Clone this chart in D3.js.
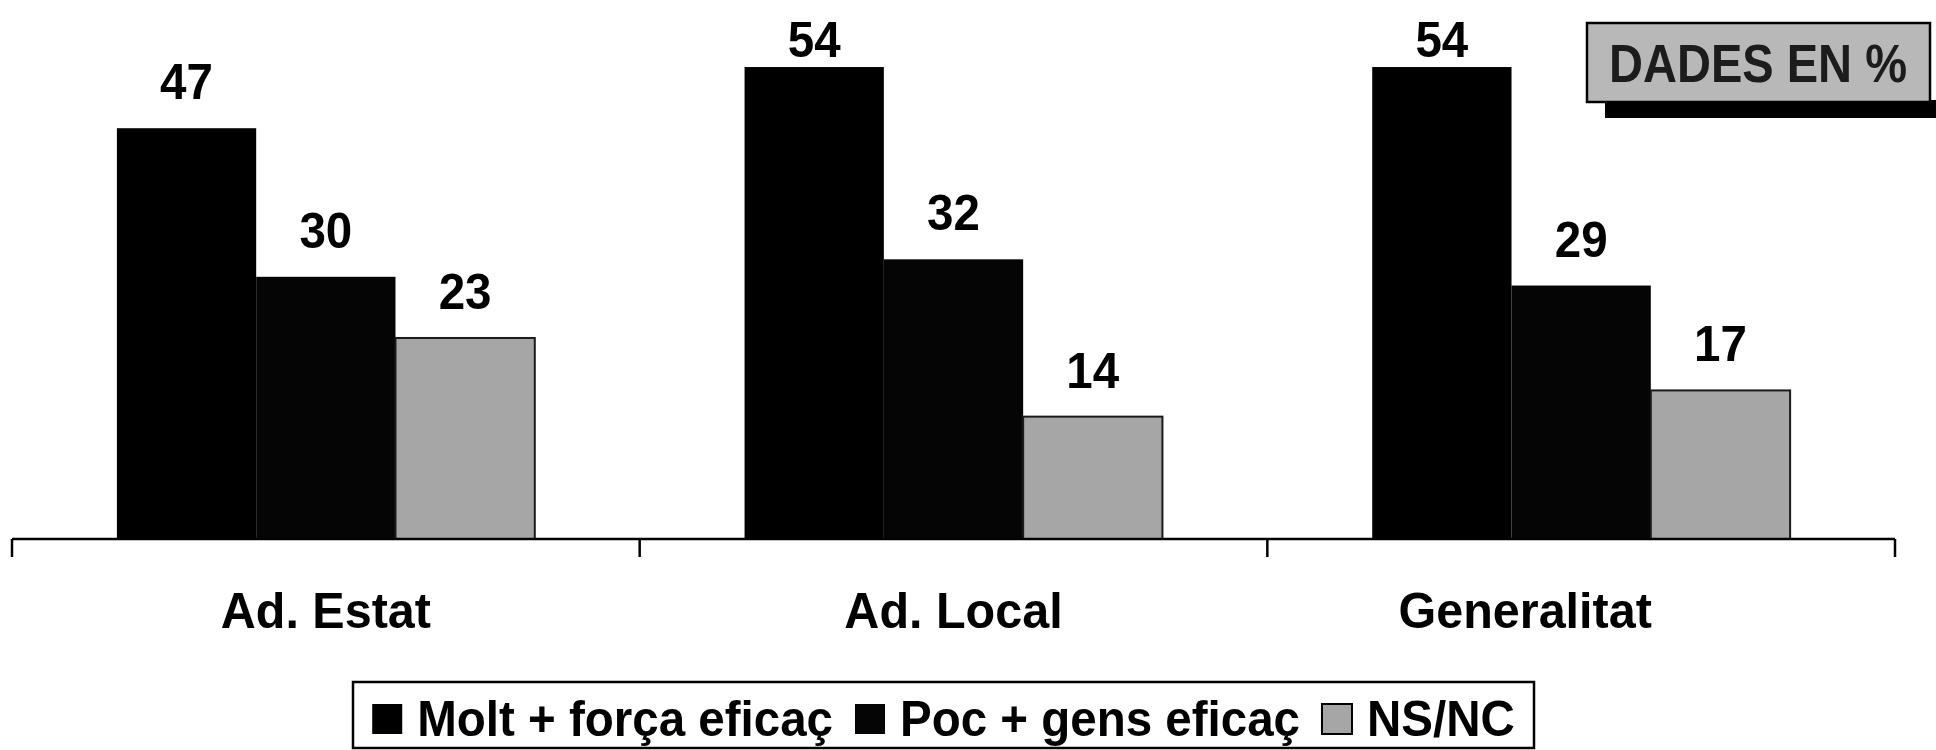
<!DOCTYPE html>
<html>
<head>
<meta charset="utf-8">
<script src="https://cdn.jsdelivr.net/npm/d3@7"></script>
<style>
  html, body { margin: 0; padding: 0; background: #fff; }
  svg { display: block; font-family: "Liberation Sans", Arial, sans-serif; font-weight: bold; }
</style>
</head>
<body>
<svg id="chart" width="1936" height="750"></svg>
<script>
// ---- data ----
const categories = ["Ad. Estat", "Ad. Local", "Generalitat"];
const seriesNames = ["Molt + força eficaç", "Poc + gens eficaç", "NS/NC"];
const molt = [47, 54, 54];
const poc = [30, 32, 29];
const nsnc = [23, 14, 17];
const badgeText = "DADES EN %";

const seriesValues = [molt, poc, nsnc];
const colors = ["#000000", "#050505", "#a6a6a6"];

const svg = d3.select("#chart");
const FS = 50, K = 0.95;

function condense(sel, k) {
  sel.each(function () {
    const len = this.getComputedTextLength();
    d3.select(this).attr("textLength", len * k).attr("lengthAdjust", "spacingAndGlyphs");
  });
}

const axisLeft = 12, axisRight = 1895, baseY = 539, pxPerUnit = 8.74;

const x = d3.scaleBand().domain(categories).range([axisLeft, axisRight]).paddingInner(0).paddingOuter(0);
const xi = d3.scaleBand().domain(seriesNames).range([0, x.bandwidth()]).paddingInner(0).paddingOuter(0.753);
const yMax = 60;
const y = d3.scaleLinear().domain([0, yMax]).range([baseY, baseY - yMax * pxPerUnit]);

// ---- bars ----
const rows = categories.map((c, ci) => ({
  cat: c,
  vals: seriesNames.map((s, si) => ({ s, si, v: seriesValues[si][ci] }))
}));

const groups = svg.append("g").selectAll("g").data(rows).join("g")
  .attr("transform", d => `translate(${x(d.cat)},0)`);

groups.selectAll("rect").data(d => d.vals).join("rect")
  .attr("x", d => xi(d.s))
  .attr("y", d => y(d.v))
  .attr("width", xi.bandwidth())
  .attr("height", d => y(0) - y(d.v))
  .attr("fill", d => colors[d.si])
  .attr("stroke", d => d.si === 2 ? "#1a1a1a" : "none")
  .attr("stroke-width", 2);

groups.selectAll("text").data(d => d.vals).join("text")
  .attr("x", d => xi(d.s) + xi.bandwidth() / 2)
  .attr("y", d => Math.max(y(d.v) - 29, 57))
  .attr("text-anchor", "middle")
  .attr("font-size", FS)
  .attr("fill", "#000")
  .text(d => d.v)
  .call(condense, K);

// ---- axis ----
const axisG = svg.append("g").attr("transform", `translate(0,${baseY})`)
  .call(d3.axisBottom(x).tickSize(0).tickPadding(0));
axisG.select(".domain").attr("stroke", "#000").attr("stroke-width", 2.5)
  .attr("d", `M${axisLeft},0H${axisRight}`);
axisG.selectAll(".tick text")
  .attr("font-size", FS)
  .attr("font-weight", "bold")
  .attr("font-family", "Liberation Sans, Arial, sans-serif")
  .attr("fill", "#000")
  .attr("dy", null)
  .attr("y", 89)
  .attr("dx", (d, i) => i === 2 ? -56 : 0)
  .call(condense, 0.97);
// boundary ticks between categories
const boundaries = categories.map(c => x(c)).concat([x(categories[categories.length - 1]) + x.bandwidth()]);
axisG.selectAll("line.bound").data(boundaries).join("line")
  .attr("class", "bound")
  .attr("x1", d => d).attr("x2", d => d)
  .attr("y1", 0).attr("y2", 18)
  .attr("stroke", "#000").attr("stroke-width", 2.5);

// ---- legend ----
svg.append("rect")
  .attr("x", 353).attr("y", 682).attr("width", 1181).attr("height", 66)
  .attr("fill", "#fff").attr("stroke", "#000").attr("stroke-width", 2.5);

const legend = svg.append("g");
const sq = 30, gapST = 15, gapTS = 22;
let cursor = 0;
seriesNames.forEach((name, i) => {
  const g = legend.append("g");
  g.append("rect").attr("x", cursor).attr("y", 704).attr("width", sq).attr("height", sq)
    .attr("fill", colors[i]).attr("stroke", "#000").attr("stroke-width", i === 2 ? 2 : 0);
  const t = g.append("text").attr("x", cursor + sq + gapST).attr("y", 736)
    .attr("font-size", FS).attr("fill", "#000").text(name);
  const w = t.node().getComputedTextLength() * K;
  t.attr("textLength", w).attr("lengthAdjust", "spacingAndGlyphs");
  cursor += sq + gapST + w + gapTS;
});
const totalW = cursor - gapTS;
const legendCenter = 353 + 1181 / 2;
legend.attr("transform", `translate(${legendCenter - totalW / 2},0)`);

// ---- badge ----
const badge = svg.append("g");
badge.append("rect").attr("x", 1605).attr("y", 100).attr("width", 331).attr("height", 18).attr("fill", "#000");
badge.append("rect").attr("x", 1587).attr("y", 23).attr("width", 343).attr("height", 79)
  .attr("fill", "#b8b8b8").attr("stroke", "#000").attr("stroke-width", 2.5);
badge.append("text").attr("x", 1758).attr("y", 82)
  .attr("text-anchor", "middle")
  .attr("font-size", 53).attr("fill", "#1c1c1c")
  .attr("textLength", 298).attr("lengthAdjust", "spacingAndGlyphs")
  .text(badgeText);
</script>
</body>
</html>
